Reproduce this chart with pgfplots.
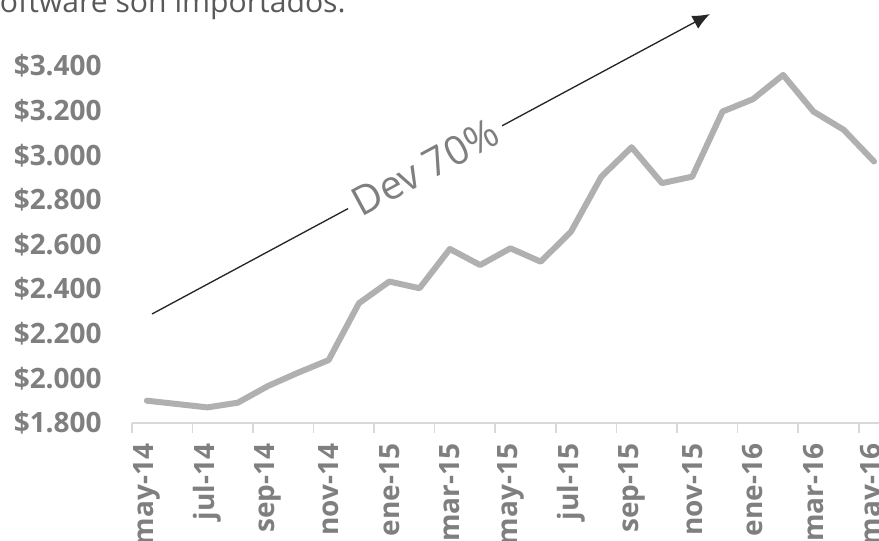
\documentclass[border=0pt]{standalone}
\usepackage{fontspec}
\setmainfont{Open Sans}
\usepackage{pgfplots}
\pgfplotsset{compat=1.18}
\usetikzlibrary{arrows.meta}
\definecolor{serie}{HTML}{B0B0B0}
\definecolor{lab}{HTML}{7F7F7F}
\definecolor{axl}{HTML}{D9D9D9}
\definecolor{arr}{HTML}{262626}
\definecolor{ttl}{HTML}{595959}
\begin{document}
\begin{tikzpicture}
\begin{axis}[
  at={(98.78pt,-317.25pt)}, anchor=south west,
  scale only axis, width=568.1pt, height=267.75pt,
  xmin=-0.5, xmax=24.5, ymin=1800, ymax=3400,
  axis x line*=bottom, axis y line*=left,
  x axis line style={draw=axl, line width=1.2pt, -},
  y axis line style={draw=none},
  ytick={1800,2000,...,3400},
  yticklabels={\$1.800,\$2.000,\$2.200,\$2.400,\$2.600,\$2.800,\$3.000,\$3.200,\$3.400},
  ytick style={draw=none},
  yticklabel style={font=\fontsize{21}{25}\selectfont\bfseries, text=lab, anchor=east, xshift=-19pt},
  xtick={0,2,...,24},
  xticklabels={may-14,jul-14,sep-14,nov-14,ene-15,mar-15,may-15,jul-15,sep-15,nov-15,ene-16,mar-16,may-16},
  xtick style={draw=none},
  xticklabel style={font=\fontsize{21}{25}\selectfont\bfseries, text=lab, rotate=90, anchor=east},
  xticklabel shift=12pt,
  extra x ticks={-0.5,1.5,...,23.5},
  extra x tick labels={},
  extra x tick style={xtick style={draw=axl, line width=1.2pt}, major tick length=7.5pt, tick align=outside},
  clip=false,
]
\addplot[serie, line width=4.5pt, line join=round, line cap=round] coordinates {
(0,1900) (1,1885) (2,1870) (3,1891) (4,1966) (5,2026) (6,2082) (7,2337)
(8,2434) (9,2404) (10,2580) (11,2508) (12,2583) (13,2523) (14,2658)
(15,2904) (16,3036) (17,2875) (18,2904) (19,3196) (20,3251) (21,3360)
(22,3196) (23,3114) (24,2972)
};
\end{axis}
\draw[arr, line width=1pt, -{Latex[length=13pt,width=11pt]}] (114pt,-235.5pt) -- (532.5pt,-10.5pt);
\node[fill=white, text=lab, rotate=28.3, inner xsep=5.5pt, inner ysep=2pt, font=\fontsize{30}{34}\selectfont] at (318.75pt,-125.25pt) {Dev 70\%};
\node[anchor=base west, text=ttl, inner sep=0pt, font=\fontsize{22.6}{27}\selectfont] at (-11pt,-9.5pt) {software son importados.};
\pgfresetboundingbox
\useasboundingbox (0,0) rectangle (659.25pt,-405pt);
\end{tikzpicture}
\end{document}
